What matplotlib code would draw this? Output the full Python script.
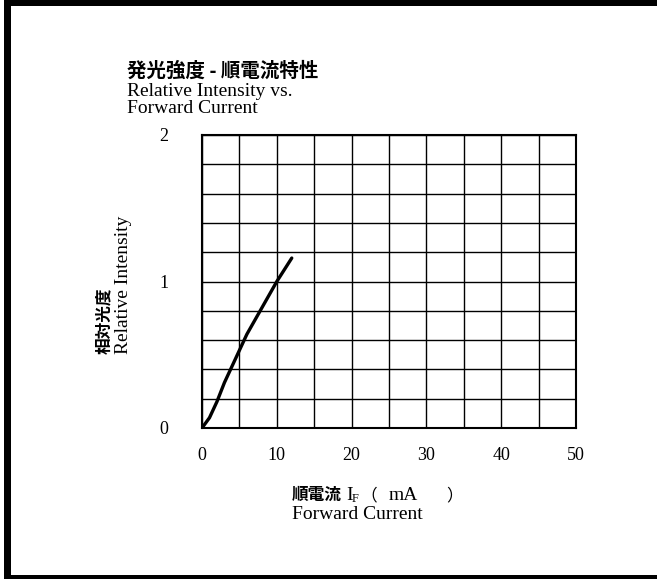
import matplotlib
matplotlib.use("Agg")
import matplotlib.pyplot as plt
from matplotlib.patches import Rectangle

# forward current (mA) vs relative luminous intensity
current_ma = [0, 1, 2, 3, 5, 6, 8, 10, 12]
rel_intensity = [0, 0.07, 0.18, 0.31, 0.53, 0.64, 0.82, 1.0, 1.16]

x_ticks = [0, 5, 10, 15, 20, 25, 30, 35, 40, 45, 50]
x_ticklabels = ["0", "", "10", "", "20", "", "30", "", "40", "", "50"]
y_ticks = [0, 0.2, 0.4, 0.6, 0.8, 1.0, 1.2, 1.4, 1.6, 1.8, 2.0]
y_ticklabels = ["0", "", "", "", "", "1", "", "", "", "", "2"]

SERIF = "Liberation Serif"
CJK = "Noto Sans CJK JP"

W, H = 657, 579
fig = plt.figure(figsize=(W / 100, H / 100), dpi=100)

def fx(px):
    return px / W

def fy(py):
    return 1 - py / H

# outer frame (top, left, bottom)
for x0, y0, x1, y1 in [(4, 0, W, 6), (4, 0, 11, H), (4, 575, W, H)]:
    fig.patches.append(Rectangle((fx(x0), fy(y1)), fx(x1) - fx(x0), fy(y0) - fy(y1),
                                 transform=fig.transFigure, color="black", lw=0))

ax = fig.add_axes([fx(202), fy(428), fx(576) - fx(202), fy(135) - fy(428)])
ax.plot(current_ma, rel_intensity, color="black", lw=2.4, solid_capstyle="round")
ax.set_xlim(0, 50)
ax.set_ylim(0, 2)
ax.set_xticks(x_ticks)
ax.set_xticklabels(x_ticklabels, fontfamily=SERIF, fontsize=13)
ax.set_yticks(y_ticks)
ax.set_yticklabels(y_ticklabels, fontfamily=SERIF, fontsize=13)
ax.tick_params(length=0, pad=14)
ax.tick_params(axis="y", pad=24)
ax.grid(True, color="black", lw=1.0)
for s in ax.spines.values():
    s.set_linewidth(1.5)

# title block
fig.text(fx(127), fy(71.5), "発光強度 - 順電流特性", family=CJK, fontsize=14,
         weight="bold", va="center", ha="left")
fig.text(fx(127), fy(96), "Relative Intensity vs.", family=SERIF, fontsize=14,
         va="baseline", ha="left")
fig.text(fx(127), fy(113), "Forward Current", family=SERIF, fontsize=14,
         va="baseline", ha="left")

# y axis label
fig.text(fx(104), fy(354), "相対光度", family=CJK, fontsize=12, weight="bold",
         rotation=90, va="bottom", ha="center")
fig.text(fx(123), fy(354), "Relative Intensity", family=SERIF, fontsize=14,
         rotation=90, va="bottom", ha="center")

# x axis label
fig.text(fx(292), fy(500), "順電流", family=CJK, fontsize=12, weight="bold",
         va="baseline", ha="left")
fig.text(fx(346), fy(500), "I", family=SERIF, fontsize=14, va="baseline", ha="left")
fig.text(fx(352), fy(502), "F", family=SERIF, fontsize=9, va="baseline", ha="left")
fig.text(fx(360), fy(500), "（", family=CJK, fontsize=12, va="baseline", ha="left")
fig.text(fx(389), fy(500), "mA", family=SERIF, fontsize=14, va="baseline", ha="left")
fig.text(fx(446), fy(500), "）", family=CJK, fontsize=12, va="baseline", ha="left")
fig.text(fx(292), fy(519), "Forward Current", family=SERIF, fontsize=14,
         va="baseline", ha="left")

fig.savefig("out.png", dpi=100)
